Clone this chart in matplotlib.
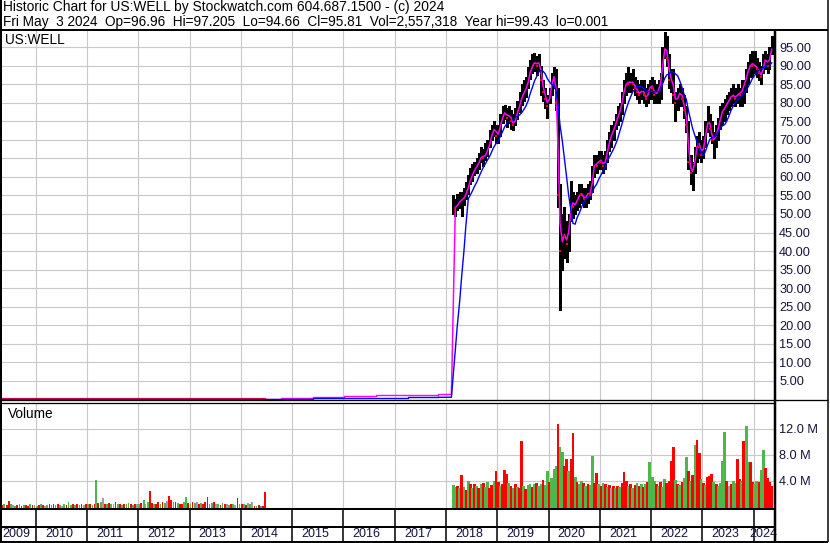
import numpy as np
import pandas as pd
import matplotlib
matplotlib.use("Agg")
import matplotlib.pyplot as plt

plt.rcParams['font.family'] = ['Liberation Sans', 'DejaVu Sans']

# half-month periods, Feb 15 2018 .. May 1 2024
price_low = [
    50, 49.5, 51, 51.5, 49.5, 52.5, 54, 55.5, 58, 59, 60.5, 61, 62, 64, 63, 64.5, 65.5, 68, 70, 71, 69,
    69, 71, 74.5, 75.5, 73.5, 74.5, 73, 72.5, 74, 75.5, 77.5, 79.5, 80.5, 81.5, 84, 86.5, 88, 88.5, 87.5, 88.5, 82, 80.5, 78.5, 76,
    80, 82, 84, 78, 52, 24, 35, 38, 37, 40, 48, 49, 50, 51, 52, 53, 52, 52, 53, 54, 56, 60, 61, 62,
    62, 61, 62, 64, 67, 68, 70, 73, 74, 75, 77, 80, 82, 83, 83, 84, 82, 81, 80, 81, 80, 79, 80, 81,
    81, 80, 80, 80, 81, 86, 92, 90, 84, 83, 80, 75, 78, 79, 79, 76, 72, 62, 58, 56.5, 61, 64, 65, 64,
    65, 68, 72, 71, 69, 65, 68, 70, 73, 74, 75, 77, 78, 79, 80, 79, 80, 79, 79, 80, 83, 85, 87, 87,
    88, 87, 86, 85, 88, 89, 88, 89, 93,
]
price_high = [
    55, 54, 55.5, 56, 56, 57, 58.5, 60.5, 62.5, 63.5, 64, 65, 66.5, 68, 67.5, 69, 70, 72.5, 74, 75, 74,
    74, 77, 79, 79.5, 78.5, 79, 78, 77, 78.5, 80.5, 83, 85, 86, 87, 89.5, 91.5, 93, 93.5, 92.5, 93, 90, 86, 84, 82,
    84, 88, 89.5, 89, 84, 58, 50, 52, 48, 50, 59, 56, 55, 56, 58, 58, 57, 57, 58, 59, 63, 66, 66, 67,
    67, 66, 67, 70, 72, 74, 75, 77, 79, 80, 83, 86, 88, 89.5, 88, 89, 87, 86, 85, 86, 86, 84, 85, 86,
    87, 86, 85, 86, 88, 95, 99, 98, 93, 89, 89, 83, 84, 85, 84, 82, 79, 75, 66, 64, 68, 71, 72, 70,
    71, 75, 79, 77, 75, 72, 74, 76, 79, 80, 81, 82, 83, 84, 85, 84, 85, 84, 86, 86, 89, 91, 93, 94,
    94, 92, 91, 90, 93, 94, 93, 95, 98,
]
price_close = [
    52, 51.5, 53, 53.5, 54, 54.5, 56, 58, 60, 61, 62.5, 63, 64.5, 66, 65, 66.5, 67.5, 70, 72, 73.5, 71,
    72, 75, 77, 77.5, 76, 77, 75, 74, 76, 78, 80, 82, 83, 84, 87, 89, 90.5, 91, 90, 91.5, 86, 83, 81, 79,
    83, 86, 88, 80, 55, 40, 45, 44, 42, 48, 54, 52, 53, 54, 56, 55, 54, 55, 56, 55, 62, 64, 63, 65,
    64, 63, 65, 68, 70, 72, 73, 75, 77, 78, 82, 84, 86, 85, 86, 85, 84, 83, 82, 84, 82, 81, 83, 85,
    84, 82, 83, 84, 86, 93, 96, 92, 86, 87, 82, 80, 82, 83, 81, 78, 74, 64, 61, 62, 66, 70, 68, 66,
    69, 73, 76, 73, 70, 70, 72, 74, 77, 78, 79, 80, 81, 82, 82, 81, 83, 82, 84, 85, 88, 89, 91, 90,
    90, 89, 88, 87, 91, 92, 90, 93, 95.8,
]
volume_m = [
    3.3, 3.0, 3.2, 2.8, 4.8, 3.0, 2.6, 3.9, 3.4, 2.9, 3.5, 3.2, 2.8, 3.4, 3.6, 3.0, 3.8, 2.9, 3.3, 3.9, 5.5,
    3.7, 3.1, 3.4, 5.7, 5.0, 3.6, 3.2, 2.8, 3.4, 3.0, 2.9, 10.1, 3.1, 2.7, 3.3, 3.5, 3.0, 3.4, 3.6, 3.2, 3.5, 4.1, 3.3, 5.5,
    3.8, 4.4, 5.8, 6.3, 12.7, 9.2, 8.4, 6.2, 7.3, 5.4, 7.4, 11.3, 4.6, 3.8, 3.4, 3.9, 3.6, 3.1, 3.5, 3.3, 7.8, 3.6, 5.2, 3.4,
    3.2, 3.6, 3.4, 3.0, 3.3, 2.9, 3.1, 2.8, 3.2, 3.0, 3.6, 5.3, 3.9, 3.2, 3.4, 2.9, 3.3, 3.6, 3.2, 3.4, 3.0, 3.5, 3.8, 6.9,
    4.6, 3.9, 3.4, 3.2, 3.7, 3.0, 4.2, 3.6, 3.9, 7.1, 9.2, 4.1, 3.5, 3.3, 3.8, 4.4, 7.6, 5.5, 4.0, 4.8, 9.5, 10.3, 8.3, 4.2,
    3.6, 3.3, 4.5, 4.7, 5.0, 3.8, 3.4, 3.2, 3.6, 7.1, 11.6, 3.9, 3.1, 3.5, 4.0, 3.6, 7.4, 4.3, 4.0, 10.1, 12.5, 6.8, 6.9, 3.7,
    3.4, 4.0, 3.8, 5.6, 8.8, 6.0, 4.4, 3.7, 3.2,
]
volume_col = ("ggrgrgrgrgrgrgrggrrgr"
              "rgrrrgrgrgrrgrggrgrggrgg"
              "rgggrggrrgrrgrggrgrggrrg"
              "rgrgrkrgrgrrrgrgrgrgrgrg"
              "ggrgrggrrrrgrgrggrgrgrrg"
              "rgrrrgrggggrkrggrrgrggrr"
              "ggrggrrrr")

# old listing, half-month periods May 1 2009 .. Jun 15 2014
early_volume_m = [
    0.2, 0.3, 0.2, 0.8, 0.3, 0.2, 0.1, 0.2, 0.3, 0.1, 0.2, 0.2, 0.1, 0.3, 0.2, 0.2,
    0.1, 0.2, 0.3, 0.2, 0.1, 0.2, 0.3, 0.2, 0.4, 0.2, 0.3, 0.2, 0.1, 0.3, 0.2, 0.6, 0.2, 0.3, 0.2, 0.4, 0.2, 0.3, 0.2, 0.3,
    0.4, 0.3, 0.2, 0.3, 4.05, 0.5, 0.6, 1.3, 0.4, 0.3, 0.5, 0.4, 0.3, 0.6, 0.3, 0.4, 0.2, 0.3, 0.4, 0.5, 0.3, 0.2, 0.3, 0.4,
    0.3, 0.5, 1.0, 0.4, 0.6, 2.35, 0.5, 0.4, 0.3, 0.7, 0.4, 0.6, 0.5, 0.8, 1.6, 0.9, 0.6, 0.7, 0.5, 0.3, 0.4, 0.6, 1.5, 0.5,
    0.4, 0.6, 0.5, 0.7, 0.4, 0.5, 0.3, 0.6, 1.5, 0.4, 0.5, 0.6, 0.3, 0.4, 0.2, 0.5, 0.4, 0.3, 0.2, 0.4, 0.3, 0.2, 1.3, 0.4,
    0.3, 0.4, 0.2, 0.5, 0.3, 0.6, 0.0, 0.0, 0.2, 0.1, 0.0, 2.2,
]
early_volume_col = ("rgrrgkgrgrgrrgrg"
                    "grgrkgrgrgrgkgrggrgrgrkr"
                    "grgrgrgkrgrgkrgrgrggrgrk"
                    "grgkgrrgrrgrgkrrgrgrrggr"
                    "grgkrgrrrggrkgrgrkgrgkrg"
                    "rgrkgkrgrgrr")
early_level = 0.15

# moving averages across the gap 2014-2018 (stepped)
ma_step_year = [2009.35, 2014.79, 2015.41, 2016.02, 2016.63, 2017.25, 2017.85]
ma_fast_step = [0.15, 0.35, 0.6, 1.0, 1.15, 1.3, 1.6]
ma_slow_step = [0.15, 0.15, 0.35, 0.35, 0.35, 0.6, 0.6]

years = list(range(2009, 2025))
price_ticks = list(range(5, 100, 5))
volume_ticks = [4, 8, 12]

header1 = "Historic Chart for US:WELL by Stockwatch.com 604.687.1500 - (c) 2024"
header2 = ("Fri May  3 2024  Op=96.96  Hi=97.205  Lo=94.66  Cl=95.81  "
           "Vol=2,557,318  Year hi=99.43  lo=0.001")

colors = {'r': '#ff0000', 'g': '#4cb84c', 'k': '#a0a0a0'}
grid_c = '#c8c8c8'
label_c = '#14143a'


def dec_year(dates):
    d = pd.DatetimeIndex(dates)
    return np.asarray(d.year + (d.dayofyear - 1) / np.where(d.is_leap_year, 366, 365))


half = 1 / 48
fast_n, slow_n = 2, 8
main_dates = pd.date_range('2018-02-15', periods=len(price_close), freq='SMS')
main_x = dec_year(main_dates) + half
early_dates = pd.date_range('2009-05-01', periods=len(early_volume_m), freq='SMS')
early_x = dec_year(early_dates) + half
pad_dates = pd.date_range(end='2018-02-01', periods=slow_n - 1, freq='SMS')
pad_x = dec_year(pad_dates) + half

fast = pd.Series([ma_fast_step[-1]] * (fast_n - 1) + price_close).rolling(fast_n, min_periods=1).mean().values
fast_x = np.concatenate([pad_x[-(fast_n - 1):], main_x])
slow = pd.Series([ma_slow_step[-1]] * (slow_n - 1) + price_close).rolling(slow_n, min_periods=1).mean().values
slow_x = np.concatenate([pad_x, main_x])

W, H = 830, 543
XL = (2009.343, 2024.415)


def rect(x0, y0, x1, y1):
    return [x0 / W, 1 - y1 / H, (x1 - x0) / W, (y1 - y0) / H]


fig = plt.figure(figsize=(W / 100, H / 100), dpi=100)
ax_p = fig.add_axes(rect(2, 30.5, 775, 399.6))
ax_v = fig.add_axes(rect(2, 402.5, 775, 509))
ax_s = fig.add_axes(rect(2, 509, 775, 541.5))

year_starts = years[1:]
for ax in (ax_p, ax_v):
    ax.set_xlim(*XL)
    ax.set_xticks(year_starts)
    ax.tick_params(axis='x', length=0, labelbottom=False)
    ax.yaxis.tick_right()
    ax.tick_params(axis='y', length=0, pad=3, labelsize=9.2, labelcolor=label_c)
    ax.grid(True, color=grid_c, lw=0.8)
    ax.set_axisbelow(True)
    for s in ax.spines.values():
        s.set_visible(False)

# price panel
ax_p.set_ylim(-0.03, 99.45)
ax_p.set_yticks(price_ticks)
ax_p.set_yticklabels([f"{v:.2f}" for v in price_ticks])
ax_p.step(ma_step_year + [fast_x[0]], ma_fast_step + [ma_fast_step[-1]],
          where='post', color='#ff00ff', lw=1.0)
ax_p.step(ma_step_year + [slow_x[0]], ma_slow_step + [ma_slow_step[-1]],
          where='post', color='#0000ff', lw=1.0)
ax_p.plot(early_x, np.full(len(early_x), early_level), color='#ff0000', lw=1.6, zorder=1.5)
ax_p.vlines(main_x, price_low, price_high, color='black', lw=1.8, antialiased=False)
ax_p.plot(fast_x, fast, color='#ff00ff', lw=1.1)
ax_p.plot(slow_x, slow, color='#0000ff', lw=1.0)
pc = np.array(price_close)
down = np.r_[False, pc[1:] < pc[:-1]]
ax_p.plot(main_x[down], pc[down], 's', color='red', ms=1.8, mew=0)

# volume panel
vb = -0.42
ax_v.set_ylim(vb, 16.1)
ax_v.set_yticks(volume_ticks)
ax_v.set_yticklabels([f"{v:.1f} M" for v in volume_ticks])
bw = 1 / 24
ax_v.bar(early_x, np.array(early_volume_m) - vb, bottom=vb, width=bw * 0.8,
         color=[colors[c] for c in early_volume_col], lw=0)
ax_v.bar(main_x, np.array(volume_m) - vb, bottom=vb, width=bw * 1.3,
         color=[colors[c] for c in volume_col], lw=0, antialiased=False)

# year strip
ax_s.set_xlim(*XL)
ax_s.set_ylim(0, 1)
ax_s.axis('off')
ax_s.vlines(year_starts, 0, 1, color='black', lw=1.1)
label_x = np.array(years, dtype=float) + 0.18
label_x[0] = XL[0] + 0.01
label_x[-1] = 2023.92
for yr, lx in zip(years, label_x):
    ax_s.text(lx, 0.23, str(yr), ha='left', va='center', fontsize=9.0, color=label_c)

# frame lines and header, in pixel coordinates
ov = fig.add_axes([0, 0, 1, 1], zorder=10)
ov.set_xlim(0, W)
ov.set_ylim(H, 0)
ov.axis('off')
ov.patch.set_alpha(0)
px = 0.72
frame = [
    ((0, 828), (30, 30), 2.0),
    ((1, 1), (0, 543), 2.0),
    ((775, 775), (30, 541.5), 2.5),
    ((827.5, 827.5), (0, 542), 1.5),
    ((0, 828), (399.8, 399.8), 1.3),
    ((0, 775), (402.6, 402.6), 1.3),
    ((0, 775), (509, 509), 2.0),
    ((0, 775), (527, 527), 2.0),
    ((0, 828), (541.5, 541.5), 2.0),
]
for xs, ys, w in frame:
    ov.plot(xs, ys, color='black', lw=w * px, solid_capstyle='butt')

ov.text(2.5, 7.5, header1, fontsize=9.9, va='center', ha='left', color='black')
ov.text(2.5, 22, header2, fontsize=9.8, va='center', ha='left', color='black')
ov.text(5, 40, "US:WELL", fontsize=9.8, va='center', ha='left', color='black')
ov.text(8, 413.5, "Volume", fontsize=9.8, va='center', ha='left', color='black')

fig.savefig("out.png", dpi=100)
